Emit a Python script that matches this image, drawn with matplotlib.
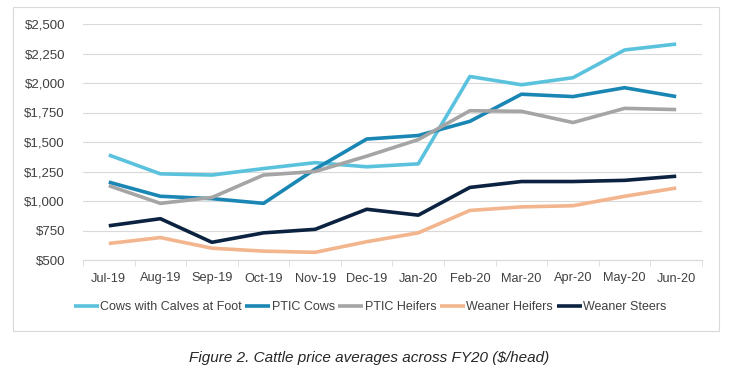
import matplotlib.pyplot as plt
from matplotlib.patches import Rectangle
from matplotlib.ticker import FuncFormatter, FixedLocator

# ============================================
# Data
# ============================================
months = ['Jul-19', 'Aug-19', 'Sep-19', 'Oct-19', 'Nov-19', 'Dec-19',
          'Jan-20', 'Feb-20', 'Mar-20', 'Apr-20', 'May-20', 'Jun-20']

cows_with_calves = [1390, 1230, 1220, 1275, 1325, 1290, 1315, 2055, 1985, 2045, 2280, 2330]
ptic_cows = [1160, 1040, 1020, 980, 1270, 1525, 1555, 1675, 1905, 1885, 1960, 1885]
ptic_heifers = [1130, 980, 1030, 1220, 1250, 1380, 1520, 1765, 1760, 1665, 1785, 1775]
weaner_heifers = [640, 690, 600, 575, 565, 655, 730, 920, 950, 960, 1040, 1110]
weaner_steers = [790, 850, 650, 730, 760, 930, 880, 1115, 1165, 1165, 1175, 1210]

series_names = ['Cows with Calves at Foot', 'PTIC Cows', 'PTIC Heifers',
                'Weaner Heifers', 'Weaner Steers']
series_values = [cows_with_calves, ptic_cows, ptic_heifers, weaner_heifers, weaner_steers]
series_colors = ['#5BC2DD', '#1A86B4', '#A5A5A5', '#F2B58E', '#0B2340']

y_ticks = [500, 750, 1000, 1250, 1500, 1750, 2000, 2250, 2500]

plt.rcParams['font.family'] = ['Liberation Sans', 'DejaVu Sans']

W, H = 735, 391
fig = plt.figure(figsize=(W / 100, H / 100), dpi=100)

# chart border box
fig.patches.append(Rectangle((13 / W, 1 - 331 / H), (719 - 13) / W, (331 - 7) / H,
                             transform=fig.transFigure, fill=False,
                             edgecolor='#D9D9D9', linewidth=0.8))

ax = fig.add_axes([83 / W, 1 - 260 / H, (702 - 83) / W, (260 - 24) / H])

x = list(range(len(months)))
for name, vals, col in zip(series_names, series_values, series_colors):
    ax.plot(x, vals, color=col, linewidth=2.6, label=name, solid_capstyle='butt')

ax.set_xlim(-0.5, len(months) - 0.5)
ax.set_ylim(500, 2500)
ax.set_yticks(y_ticks)
ax.yaxis.set_major_formatter(FuncFormatter(lambda v, p: f'${v:,.0f}'))
ax.grid(axis='y', color='#D9D9D9', linewidth=0.8)
ax.set_axisbelow(True)

ax.set_xticks(x)
ax.set_xticklabels(months)
ax.xaxis.set_minor_locator(FixedLocator([i - 0.5 for i in range(len(months) + 1)]))
ax.tick_params(axis='x', which='major', length=0, pad=9, labelsize=9.2, colors='#404040')
ax.tick_params(axis='x', which='minor', length=4, color='#D9D9D9')
ax.tick_params(axis='y', length=0, pad=13, labelsize=9.5, colors='#404040')

for s in ['top', 'right', 'left']:
    ax.spines[s].set_visible(False)
ax.spines['bottom'].set_color('#D9D9D9')

fig.legend(loc='center', bbox_to_anchor=(370 / W, 1 - 307 / H), ncol=5, frameon=False,
           fontsize=9, handlelength=2.0, handletextpad=0.1, columnspacing=0.3,
           labelcolor='#404040')

fig.text(369 / W, 1 - 358 / H, 'Figure 2. Cattle price averages across FY20 ($/head)',
         ha='center', va='center', fontsize=11, style='italic', color='#262626')

fig.savefig('out.png', dpi=100)
